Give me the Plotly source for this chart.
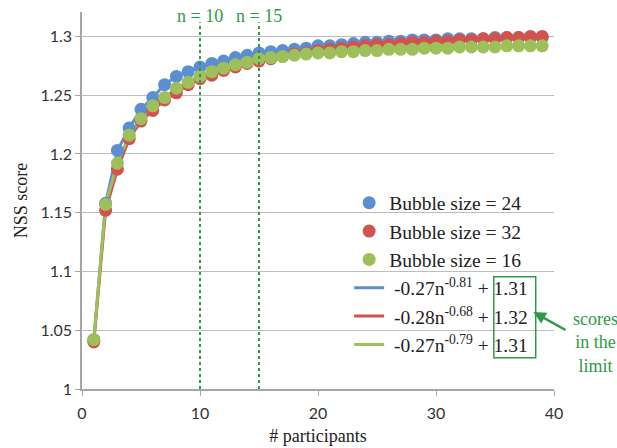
import plotly.graph_objects as go

participants = list(range(1, 40))

nss_bubble24 = [1.042, 1.158, 1.203, 1.222, 1.238, 1.248, 1.259, 1.266, 1.270, 1.274,
                1.277, 1.279, 1.282, 1.284, 1.286, 1.287, 1.288, 1.289, 1.290, 1.292,
                1.292, 1.293, 1.294, 1.295, 1.295, 1.296, 1.296, 1.297, 1.297, 1.297,
                1.298, 1.298, 1.298, 1.298, 1.299, 1.299, 1.299, 1.299, 1.299]
nss_bubble32 = [1.040, 1.152, 1.187, 1.213, 1.228, 1.237, 1.246, 1.252, 1.259, 1.264,
                1.267, 1.271, 1.274, 1.277, 1.279, 1.281, 1.283, 1.285, 1.286, 1.288,
                1.289, 1.290, 1.291, 1.292, 1.293, 1.293, 1.294, 1.295, 1.295, 1.296,
                1.296, 1.297, 1.297, 1.298, 1.298, 1.299, 1.299, 1.300, 1.300]
nss_bubble16 = [1.042, 1.157, 1.192, 1.216, 1.230, 1.241, 1.248, 1.256, 1.261, 1.266,
                1.270, 1.273, 1.276, 1.278, 1.281, 1.282, 1.283, 1.284, 1.285, 1.286,
                1.286, 1.287, 1.287, 1.288, 1.288, 1.289, 1.289, 1.289, 1.290, 1.290,
                1.290, 1.291, 1.291, 1.291, 1.291, 1.292, 1.292, 1.292, 1.292]

series_names = ["Bubble size = 24", "Bubble size = 32", "Bubble size = 16"]
fit_names = ["\u00a0-0.27n<sup>-0.81</sup> + 1.31",
             "\u00a0-0.28n<sup>-0.68</sup> + 1.32",
             "\u00a0-0.27n<sup>-0.79</sup> + 1.31"]
colors = ["#5b8fd2", "#d2524e", "#9dc05a"]
ref_lines = [10, 15]
ref_labels = ["n = 10", "n = 15"]

x_ticks = [0, 10, 20, 30, 40]
y_ticks = [1, 1.05, 1.1, 1.15, 1.2, 1.25, 1.3]
y_tick_text = ["1", "1.05", "1.1", "1.15", "1.2", "1.25", "1.3"]

SERIF = "Liberation Serif, Times New Roman, serif"
SANS = "Lato, Open Sans, sans-serif"
GREEN = "#2e9a48"

all_series = [nss_bubble24, nss_bubble32, nss_bubble16]

fig = go.Figure()
# fitted lines (drawn first, listed after the markers in the legend)
for i, ys in enumerate(all_series):
    fig.add_trace(go.Scatter(x=participants, y=ys, mode="lines",
                             line=dict(color=colors[i], width=3),
                             name=fit_names[i], legendrank=100 + i))
for i, ys in enumerate(all_series):
    fig.add_trace(go.Scatter(x=participants, y=ys, mode="markers",
                             marker=dict(color=colors[i], size=13,
                                         line=dict(width=0)),
                             name=series_names[i], legendrank=10 + i))

for xv, lab in zip(ref_lines, ref_labels):
    fig.add_shape(type="line", xref="x", yref="y", x0=xv, x1=xv, y0=1.0, y1=1.312,
                  line=dict(color=GREEN, width=2, dash="dot"), layer="above")
    fig.add_annotation(x=xv, y=0.9894, yref="paper", xref="x", text=lab,
                       showarrow=False, yanchor="middle", xanchor="center",
                       font=dict(family=SERIF, size=18, color=GREEN))

# box around the limits
fig.add_shape(type="rect", xref="x", yref="y", x0=34.9, x1=38.45, y0=1.0266, y1=1.0955,
              line=dict(color=GREEN, width=1.5))
fig.add_annotation(x=38.25, y=1.0655, ax=41.1, ay=1.0495, axref="x", ayref="y",
                   xref="x", yref="y", text="", showarrow=True, arrowhead=2,
                   arrowsize=1, arrowwidth=2.5, arrowcolor=GREEN)
fig.add_annotation(x=1.087, y=1.0394, xref="paper", yref="y",
                   text="scores<br>in the<br>limit", showarrow=False,
                   xanchor="center", yanchor="middle",
                   align="center", font=dict(family=SERIF, size=18, color=GREEN))

fig.update_layout(
    width=617, height=448,
    margin=dict(l=82, r=63, t=12, b=58.7),
    plot_bgcolor="white", paper_bgcolor="white",
    showlegend=True,
    legend=dict(x=0.566, y=0.545, xanchor="left", yanchor="top",
                bgcolor="rgba(255,255,255,0)",
                font=dict(family=SERIF, size=19.5, color="#222"),
                itemwidth=30),
    xaxis=dict(range=[0, 40], tickvals=x_ticks, showgrid=False,
               showline=True, linecolor="#a6a6a6", linewidth=1.5,
               ticks="outside", ticklen=5, tickcolor="#a6a6a6",
               ticklabelstandoff=4, automargin=False,
               tickfont=dict(family=SANS, size=16, color="#333"),
               title=dict(text="# participants", font=dict(family=SERIF, size=18, color="#222"),
                          standoff=8),
               zeroline=False),
    yaxis=dict(range=[1.0, 1.3208], tickvals=y_ticks, ticktext=y_tick_text,
               showgrid=True, gridcolor="#bdbdbd", gridwidth=1.3,
               showline=True, linecolor="#a6a6a6", linewidth=1.5,
               ticks="outside", ticklen=5, tickcolor="#a6a6a6",
               automargin=False,
               tickfont=dict(family=SANS, size=16, color="#333"),
               title=dict(text="NSS score", font=dict(family=SERIF, size=18, color="#222"),
                          standoff=8),
               zeroline=False),
)

fig.write_html(
    "out.html",
    config={"displayModeBar": False},
    post_script="document.body.style.margin='0';"
                "document.documentElement.style.overflow='hidden';"
                "document.body.style.overflow='hidden';",
)
